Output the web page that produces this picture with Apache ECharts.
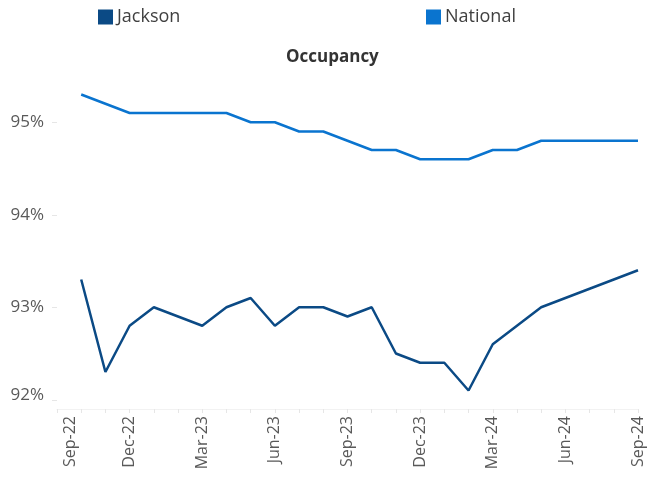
<!DOCTYPE html>
<html>
<head>
<meta charset="utf-8">
<script src="https://cdn.jsdelivr.net/npm/echarts@6/dist/echarts.min.js"></script>
<style>html,body{margin:0;padding:0;background:#fff;}#c{width:647px;height:477px;}</style>
</head>
<body>
<div id="c"></div>
<script>
var categories = ['Sep-22','Oct-22','Nov-22','Dec-22','Jan-23','Feb-23','Mar-23','Apr-23','May-23','Jun-23','Jul-23','Aug-23','Sep-23','Oct-23','Nov-23','Dec-23','Jan-24','Feb-24','Mar-24','Apr-24','May-24','Jun-24','Jul-24','Aug-24','Sep-24'];
var jackson = [null, 93.3, 92.3, 92.8, 93.0, 92.9, 92.8, 93.0, 93.1, 92.8, 93.0, 93.0, 92.9, 93.0, 92.5, 92.4, 92.4, 92.1, 92.6, 92.8, 93.0, 93.1, 93.2, 93.3, 93.4];
var national = [null, 95.3, 95.2, 95.1, 95.1, 95.1, 95.1, 95.1, 95.0, 95.0, 94.9, 94.9, 94.8, 94.7, 94.7, 94.6, 94.6, 94.6, 94.7, 94.7, 94.8, 94.8, 94.8, 94.8, 94.8];
var yTicks = [92, 93, 94, 95];

var FONT = 'Open Sans';
var chart = echarts.init(document.getElementById('c'), null, {renderer: 'canvas'});
chart.setOption({
  animation: false,
  backgroundColor: '#ffffff',
  title: {
    text: 'Occupancy', left: 281, top: 44,
    textStyle: {fontFamily: FONT, fontWeight: 'bold', fontSize: 17, color: '#333333'}
  },
  legend: [
    {data: ['Jackson'], left: 98, top: 8, padding: 0, icon: 'rect', itemWidth: 15, itemHeight: 15, itemGap: 5,
     textStyle: {fontFamily: FONT, fontSize: 18, color: '#404040', padding: [0, 0, 0, -1]}},
    {data: ['National'], left: 426, top: 8, padding: 0, icon: 'rect', itemWidth: 15, itemHeight: 15, itemGap: 5,
     textStyle: {fontFamily: FONT, fontSize: 18, color: '#404040', padding: [0, 0, 0, -1]}}
  ],
  grid: {left: 57, right: 9, top: 76, bottom: 68},
  xAxis: {
    type: 'category', data: categories, boundaryGap: false,
    axisLine: {show: true, lineStyle: {color: '#f2f2f2'}},
    axisTick: {show: true, interval: 0, length: 4, lineStyle: {color: '#e6e6e6'}},
    axisLabel: {
      interval: 2, rotate: 90, margin: 7, fontFamily: FONT, fontSize: 16, color: '#595959',
      formatter: function (v, i) { return i === 0 ? '{f|' + v + '}' : v; },
      rich: {f: {padding: [26, 0, 0, 0], fontFamily: FONT, fontSize: 16, color: '#595959'}}
    },
    splitLine: {show: false}
  },
  yAxis: {
    type: 'value', min: 91.9, max: 95.5,
    axisLine: {show: false},
    axisTick: {show: true, customValues: yTicks, length: 5, lineStyle: {color: '#e6e6e6'}},
    axisLabel: {customValues: yTicks, margin: 13, fontFamily: FONT, fontSize: 17, color: '#595959',
      formatter: function (v) { return Math.round(v) === 92 ? '{b|92%}' : Math.round(v) + '%'; },
      rich: {b: {padding: [0, 0, 10, 0], fontFamily: FONT, fontSize: 17, color: '#595959'}}},
    splitLine: {show: false}
  },
  series: [
    {name: 'Jackson', type: 'line', data: jackson, symbol: 'none', connectNulls: false,
     itemStyle: {color: '#0B4A85'}, lineStyle: {color: '#0B4A85', width: 2.5}},
    {name: 'National', type: 'line', data: national, symbol: 'none', connectNulls: false,
     itemStyle: {color: '#0A74CF'}, lineStyle: {color: '#0A74CF', width: 2.5}}
  ]
});
</script>
</body>
</html>
